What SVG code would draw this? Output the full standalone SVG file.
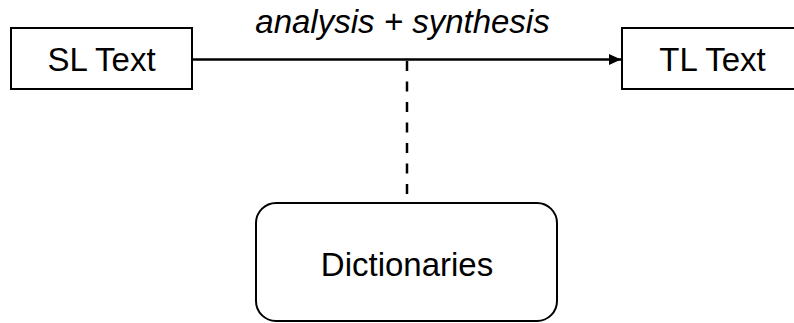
<svg xmlns="http://www.w3.org/2000/svg" width="794" height="323" viewBox="0 0 794 323">
  <style>
    .box { fill: #ffffff; stroke: #000000; stroke-width: 2; }
    .label { font-family: "Liberation Sans", Arial, sans-serif; font-size: 33px; fill: #000000; text-anchor: middle; }
    .edge { stroke: #000000; stroke-width: 2.5; fill: none; }
    .dashed { stroke: #000000; stroke-width: 2.5; fill: none; stroke-dasharray: 10 10.5; }
  </style>
  <defs>
    <marker id="arrow" markerUnits="userSpaceOnUse" markerWidth="13" markerHeight="13" refX="12" refY="6.5" orient="auto">
      <path d="M0,1 L12,6.5 L0,12 Z" fill="#000000"/>
    </marker>
  </defs>
  <rect width="794" height="323" fill="#ffffff"/>

  <g id="connectors">
    <line class="edge" x1="192" y1="59.5" x2="621" y2="59.5" marker-end="url(#arrow)"/>
    <line class="dashed" x1="407" y1="61" x2="407" y2="202"/>
    <text class="label" x="402.5" y="33" font-style="italic">analysis + synthesis</text>
  </g>

  <g id="sl-text">
    <rect class="box" x="11" y="28" width="181" height="61"/>
    <text class="label" x="101.5" y="71">SL Text</text>
  </g>

  <g id="tl-text">
    <rect class="box" x="622" y="28" width="181" height="61"/>
    <text class="label" x="712.5" y="71">TL Text</text>
  </g>

  <g id="dictionaries">
    <rect class="box" x="256" y="203" width="301" height="118" rx="20" ry="20"/>
    <text class="label" x="407" y="276">Dictionaries</text>
  </g>
</svg>
